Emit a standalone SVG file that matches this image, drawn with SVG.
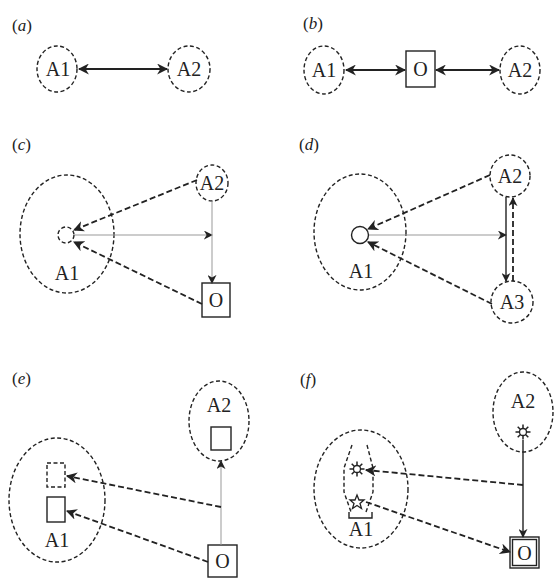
<svg xmlns="http://www.w3.org/2000/svg" width="554" height="580" viewBox="0 0 554 580">
<style>
.bg{fill:#fff}
.agent{fill:none;stroke:#222;stroke-width:1.4;stroke-dasharray:4 2.5}
.box{fill:#fff;stroke:#222;stroke-width:1.4}
.dbox{fill:none;stroke:#222;stroke-width:1.4;stroke-dasharray:4 2.5}
.t{font-family:"Liberation Serif","Times New Roman",serif;font-size:20px;fill:#222;text-anchor:middle}
.lbl{font-family:"Liberation Serif","Times New Roman",serif;font-size:17px;fill:#222}
.solid{fill:none;stroke:#222;stroke-width:2.2}
.dash{fill:none;stroke:#222;stroke-width:1.8;stroke-dasharray:6 3}
.thin{fill:none;stroke:#999;stroke-width:1}
.med{fill:none;stroke:#222;stroke-width:1.4}
.sym{fill:none;stroke:#222;stroke-width:1.3}
</style>
<defs>
<marker id="ah" viewBox="0 0 10 10" refX="9" refY="5" markerWidth="11" markerHeight="11" markerUnits="userSpaceOnUse" orient="auto-start-reverse">
<path d="M0,0 L10,5 L0,10 L3,5 Z" fill="#222"/>
</marker>
<marker id="ahs" viewBox="0 0 10 10" refX="9" refY="5" markerWidth="9" markerHeight="9" markerUnits="userSpaceOnUse" orient="auto-start-reverse">
<path d="M0,0 L10,5 L0,10 L3,5 Z" fill="#222"/>
</marker>
<g id="sun">
<circle r="3.5" fill="#fff" stroke="#222" stroke-width="1.3"/>
<path d="M0,-3.5V-7.5M0,3.5V7.5M-3.5,0H-7.5M3.5,0H7.5M2.5,-2.5L5.3,-5.3M-2.5,-2.5L-5.3,-5.3M2.5,2.5L5.3,5.3M-2.5,2.5L-5.3,5.3" stroke="#222" stroke-width="1.5"/>
</g>
</defs>
<rect class="bg" width="554" height="580"/>

<g id="labels">
<text class="lbl" x="12" y="31">(<tspan font-style="italic">a</tspan>)</text>
<text class="lbl" x="303" y="29">(<tspan font-style="italic">b</tspan>)</text>
<text class="lbl" x="12" y="150">(<tspan font-style="italic">c</tspan>)</text>
<text class="lbl" x="299" y="150">(<tspan font-style="italic">d</tspan>)</text>
<text class="lbl" x="12" y="384">(<tspan font-style="italic">e</tspan>)</text>
<text class="lbl" x="300" y="385">(<tspan font-style="italic">f</tspan>)</text>
</g>

<!-- panel a -->
<g id="a-A1"><ellipse class="agent" cx="57" cy="69" rx="20" ry="23"/><text class="t" x="58" y="76">A1</text></g>
<g id="a-A2"><ellipse class="agent" cx="189" cy="69" rx="21" ry="23"/><text class="t" x="189" y="76">A2</text></g>

<!-- panel b -->
<g id="b-A1"><ellipse class="agent" cx="324" cy="70" rx="20" ry="24"/><text class="t" x="324" y="77">A1</text></g>
<g id="b-O"><rect class="box" x="406" y="51" width="29" height="36"/><text class="t" x="420.5" y="76">O</text></g>
<g id="b-A2"><ellipse class="agent" cx="520" cy="70" rx="20" ry="24"/><text class="t" x="520" y="77">A2</text></g>

<!-- panel c -->
<g id="c-A1"><ellipse class="agent" cx="67" cy="234" rx="47" ry="59"/><circle class="agent" cx="66" cy="235" r="8"/><text class="t" x="67" y="280">A1</text></g>
<g id="c-A2"><ellipse class="agent" cx="212" cy="183" rx="16" ry="18"/><text class="t" x="212" y="190">A2</text></g>
<g id="c-O"><rect class="box" x="202" y="283" width="28" height="34"/><text class="t" x="216" y="307">O</text></g>

<!-- panel d -->
<g id="d-A1"><ellipse class="agent" cx="360" cy="232" rx="46" ry="58"/><circle class="med" cx="360" cy="235" r="8.5"/><text class="t" x="361" y="278">A1</text></g>
<g id="d-A2"><ellipse class="agent" cx="510" cy="176" rx="20" ry="21"/><text class="t" x="510" y="183">A2</text></g>
<g id="d-A3"><ellipse class="agent" cx="512" cy="302" rx="21" ry="21"/><text class="t" x="512" y="309">A3</text></g>

<!-- panel e -->
<g id="e-A1"><ellipse class="agent" cx="57" cy="500" rx="48" ry="62"/><rect class="dbox" x="47" y="463" width="18" height="24"/><rect class="box" x="47" y="497" width="18" height="25"/><text class="t" x="57" y="547">A1</text></g>
<g id="e-A2"><ellipse class="agent" cx="219" cy="421" rx="30" ry="40"/><text class="t" x="219" y="412">A2</text><rect class="box" x="211" y="427" width="20" height="23"/></g>
<g id="e-O"><rect class="box" x="208" y="545" width="29" height="32"/><text class="t" x="222.5" y="568">O</text></g>

<!-- panel f -->
<g id="f-A1"><ellipse class="agent" cx="361" cy="489" rx="47" ry="59"/>
<path class="agent" d="M352,445 L344,468 L344,492 L351,512"/>
<path class="agent" d="M367,445 L373,468 L373,492 L366,512"/>
<path class="med" d="M349,512 V518 H372 V512"/>
<use href="#sun" x="357" y="469"/>
<polygon class="sym" points="357,495 359,500 364,500 360,503.5 361.5,508.5 357,505.5 352.5,508.5 354,503.5 350,500 355,500"/>
<text class="t" x="361" y="536">A1</text></g>
<g id="f-A2"><ellipse class="agent" cx="523" cy="412" rx="30" ry="40"/><text class="t" x="523" y="408">A2</text><use href="#sun" x="523" y="432"/></g>
<g id="f-O"><rect class="box" x="510" y="537" width="29" height="31" stroke-width="2"/><rect class="box" x="512.5" y="539.5" width="24" height="26" stroke-width="1"/><text class="t" x="524.5" y="560">O</text></g>

<g id="connectors">
<!-- a -->
<line class="solid" x1="79" y1="69" x2="167" y2="69" marker-start="url(#ah)" marker-end="url(#ah)"/>
<!-- b -->
<line class="solid" x1="346" y1="70" x2="405" y2="70" marker-start="url(#ah)" marker-end="url(#ah)"/>
<line class="solid" x1="436" y1="70" x2="499" y2="70" marker-start="url(#ah)" marker-end="url(#ah)"/>
<!-- c -->
<line class="dash" x1="197" y1="180" x2="74" y2="230" marker-end="url(#ah)"/>
<line class="dash" x1="202" y1="304" x2="74" y2="242" marker-end="url(#ah)"/>
<line class="thin" x1="75" y1="235" x2="212" y2="235" marker-end="url(#ahs)"/>
<line class="thin" x1="212" y1="201" x2="212" y2="283" marker-end="url(#ahs)"/>
<!-- d -->
<line class="dash" x1="490" y1="175" x2="368" y2="229" marker-end="url(#ah)"/>
<line class="dash" x1="492" y1="304" x2="368" y2="242" marker-end="url(#ah)"/>
<line class="thin" x1="369" y1="235" x2="506" y2="235" marker-end="url(#ahs)"/>
<line class="med" x1="506" y1="197" x2="506" y2="281" marker-end="url(#ahs)"/>
<line class="dash" x1="513" y1="281" x2="513" y2="198" marker-end="url(#ahs)"/>
<!-- e -->
<line class="thin" x1="221" y1="545" x2="221" y2="461" marker-end="url(#ahs)"/>
<line class="dash" x1="221" y1="507" x2="67" y2="476" stroke-dasharray="14 2" marker-end="url(#ah)"/>
<line class="dash" x1="208" y1="562" x2="67" y2="511" marker-end="url(#ah)"/>
<!-- f -->
<line class="med" x1="523" y1="440" x2="523" y2="537" marker-end="url(#ahs)"/>
<line class="dash" x1="523" y1="485" x2="366" y2="470" stroke-dasharray="20 2" marker-end="url(#ah)"/>
<line class="dash" x1="366" y1="502" x2="510" y2="552" marker-end="url(#ah)"/>
</g>
</svg>
